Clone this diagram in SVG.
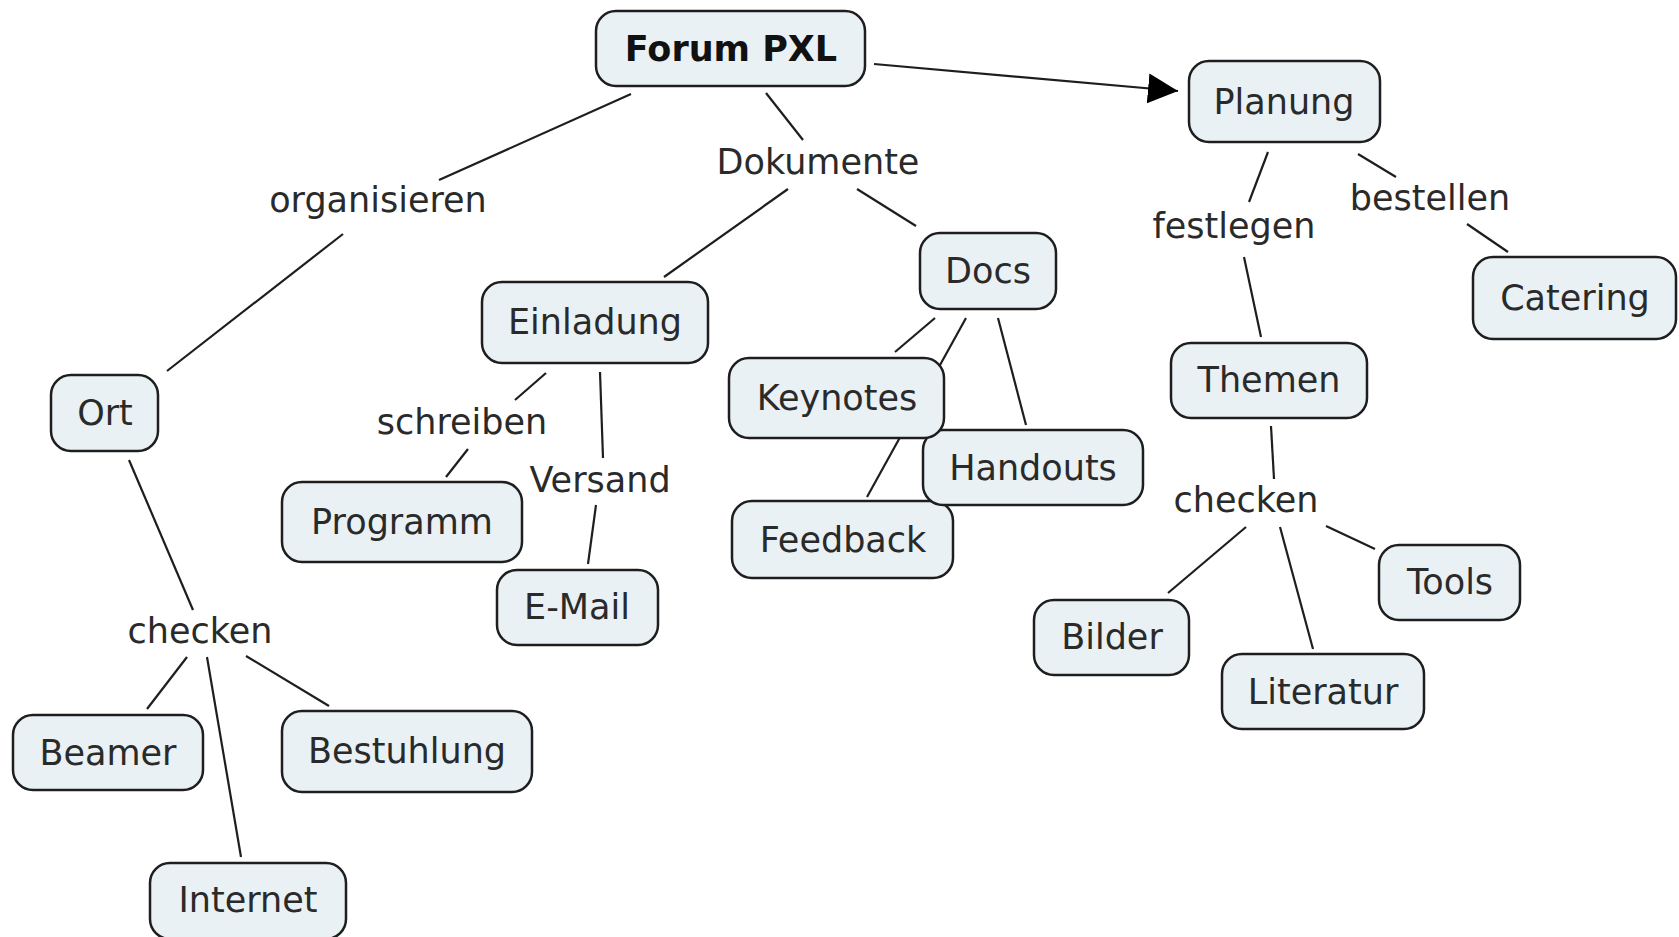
<svg xmlns="http://www.w3.org/2000/svg" width="1679" height="937" viewBox="0 0 1679 937">
<style>
.n rect{fill:#e9f1f4;stroke:#1e1e1e;stroke-width:2.5}
text{font-family:"DejaVu Sans",Verdana,sans-serif;font-size:35px;fill:#2a2a2a;text-anchor:middle}
.b{font-weight:bold;fill:#111}
#connectors line{stroke:#1e1e1e;stroke-width:2.2;fill:none}
</style>
<defs>
<marker id="ah" markerUnits="userSpaceOnUse" markerWidth="32" markerHeight="32" refX="30" refY="15" orient="auto">
<path d="M0,0 L30,15 L0,30 z" fill="#000"/>
</marker>
</defs>
<rect width="1679" height="937" fill="#fff"/>
<g id="connectors">
<line x1="631" y1="94" x2="439" y2="180"/>
<line x1="343" y1="234" x2="167" y2="371"/>
<line x1="766" y1="93" x2="803" y2="140"/>
<line x1="788" y1="189" x2="664" y2="277"/>
<line x1="857" y1="189" x2="916" y2="226"/>
<line x1="874" y1="64" x2="1178" y2="91" marker-end="url(#ah)"/>
<line x1="1268" y1="152" x2="1249" y2="202"/>
<line x1="1244" y1="257" x2="1261" y2="337"/>
<line x1="1358" y1="154" x2="1396" y2="177"/>
<line x1="1467" y1="224" x2="1508" y2="252"/>
<line x1="546" y1="373" x2="515" y2="400"/>
<line x1="468" y1="449" x2="446" y2="477"/>
<line x1="600" y1="372" x2="603" y2="458"/>
<line x1="596" y1="505" x2="588" y2="564"/>
<line x1="935" y1="318" x2="895" y2="352"/>
<line x1="966" y1="318" x2="867" y2="497"/>
<line x1="998" y1="318" x2="1026" y2="425"/>
<line x1="1271" y1="426" x2="1274" y2="479"/>
<line x1="1246" y1="527" x2="1168" y2="593"/>
<line x1="1280" y1="527" x2="1313" y2="649"/>
<line x1="1326" y1="526" x2="1375" y2="549"/>
<line x1="129" y1="460" x2="193" y2="610"/>
<line x1="187" y1="657" x2="147" y2="709"/>
<line x1="207" y1="657" x2="241" y2="857"/>
<line x1="246" y1="656" x2="329" y2="706"/>
</g>
<g id="lbl-organisieren"><text x="378" y="212">organisieren</text></g>
<g id="lbl-dokumente"><text x="818" y="174">Dokumente</text></g>
<g id="lbl-festlegen"><text x="1234" y="238">festlegen</text></g>
<g id="lbl-bestellen"><text x="1430" y="210">bestellen</text></g>
<g id="lbl-schreiben"><text x="462" y="434">schreiben</text></g>
<g id="lbl-versand"><text x="600" y="492">Versand</text></g>
<g id="lbl-checken2"><text x="1246" y="512">checken</text></g>
<g id="lbl-checken1"><text x="200" y="643">checken</text></g>
<g id="forum" class="n"><rect x="596" y="11" width="269" height="75" rx="20"/><text class="b" x="731" y="61">Forum PXL</text></g>
<g id="planung" class="n"><rect x="1189" y="61" width="191" height="81" rx="20"/><text x="1284" y="114">Planung</text></g>
<g id="ort" class="n"><rect x="51" y="375" width="107" height="76" rx="20"/><text x="105" y="425">Ort</text></g>
<g id="einladung" class="n"><rect x="482" y="282" width="226" height="81" rx="20"/><text x="595" y="334">Einladung</text></g>
<g id="docs" class="n"><rect x="920" y="233" width="136" height="76" rx="20"/><text x="988" y="283">Docs</text></g>
<g id="catering" class="n"><rect x="1473" y="257" width="203" height="82" rx="20"/><text x="1575" y="310">Catering</text></g>
<g id="themen" class="n"><rect x="1171" y="343" width="196" height="75" rx="20"/><text x="1269" y="392">Themen</text></g>
<g id="programm" class="n"><rect x="282" y="482" width="240" height="80" rx="20"/><text x="402" y="534">Programm</text></g>
<g id="email" class="n"><rect x="497" y="570" width="161" height="75" rx="20"/><text x="577" y="619">E-Mail</text></g>
<g id="feedback" class="n"><rect x="732" y="501" width="221" height="77" rx="20"/><text x="843" y="552">Feedback</text></g>
<g id="handouts" class="n"><rect x="923" y="430" width="220" height="75" rx="20"/><text x="1033" y="480">Handouts</text></g>
<g id="keynotes" class="n"><rect x="729" y="358" width="215" height="80" rx="20"/><text x="837" y="410">Keynotes</text></g>
<g id="tools" class="n"><rect x="1379" y="545" width="141" height="75" rx="20"/><text x="1450" y="594">Tools</text></g>
<g id="bilder" class="n"><rect x="1034" y="600" width="155" height="75" rx="20"/><text x="1112" y="649">Bilder</text></g>
<g id="literatur" class="n"><rect x="1222" y="654" width="202" height="75" rx="20"/><text x="1323" y="704">Literatur</text></g>
<g id="beamer" class="n"><rect x="13" y="715" width="190" height="75" rx="20"/><text x="108" y="765">Beamer</text></g>
<g id="bestuhlung" class="n"><rect x="282" y="711" width="250" height="81" rx="20"/><text x="407" y="763">Bestuhlung</text></g>
<g id="internet" class="n"><rect x="150" y="863" width="196" height="76" rx="20"/><text x="248" y="912">Internet</text></g>
</svg>
